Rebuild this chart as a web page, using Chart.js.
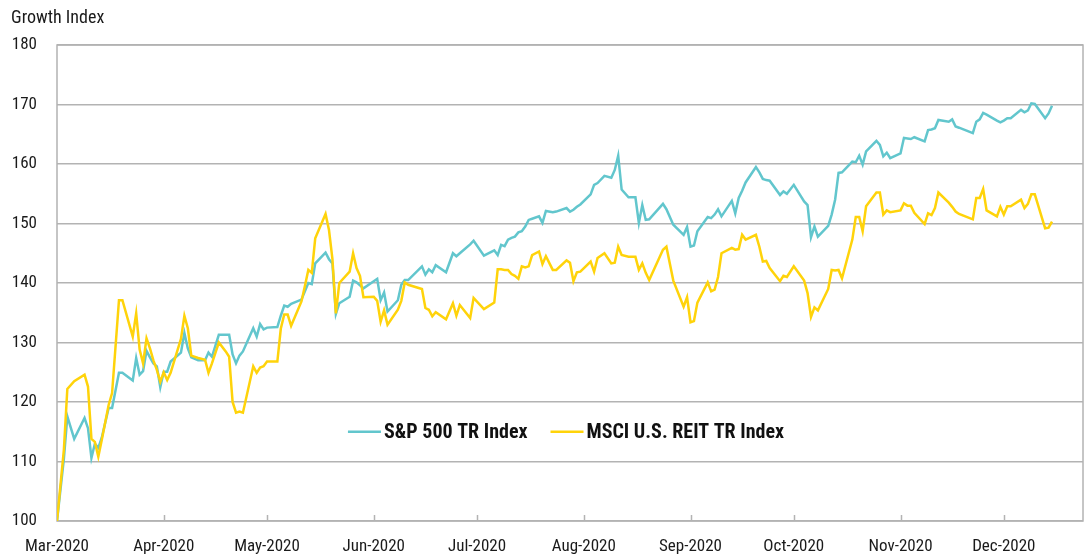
<!DOCTYPE html>
<html lang="en">
<head>
    <meta charset="UTF-8">
    <title>Growth Index</title>
    <script src="https://cdn.jsdelivr.net/npm/chart.js"></script>
    <style>
        body {
            margin: 0;
            background: #ffffff;
        }
        .wrap {
            position: relative;
            width: 1086px;
            height: 558px;
        }
    </style>
</head>
<body>
    <div class="wrap">
        <canvas id="growthChart"></canvas>
    </div>

    <script>
        // days counted from 1 Mar 2020
        const days = [
            0, 2, 3, 5, 8, 9, 10, 11, 12, 13,
            15, 16, 18, 19, 22, 23, 24, 25, 26, 27,
            28, 29, 30, 31, 32, 33, 36, 37, 38, 39,
            41, 43, 44, 45, 47, 49, 50, 51, 52, 53,
            54, 57, 58, 59, 60, 61, 64, 65, 66, 67,
            68, 71, 72, 73, 74, 75, 78, 79, 80, 81,
            82, 85, 86, 87, 88, 89, 92, 93, 94, 95,
            96, 99, 100, 101, 102, 106, 107, 108, 109, 110,
            113, 115, 116, 117, 120, 121, 124, 127, 128, 129,
            130, 131, 132, 133, 134, 135, 136, 137, 138, 140,
            141, 142, 144, 145, 148, 149, 150, 151, 152, 155,
            156, 157, 159, 161, 162, 163, 164, 166, 168, 169,
            170, 171, 172, 176, 177, 179, 182, 183, 184, 185,
            186, 189, 190, 191, 192, 193, 196, 197, 198, 199,
            200, 203, 204, 205, 206, 207, 210, 211, 212, 214,
            217, 218, 219, 220, 221, 224, 225, 226, 227, 228,
            231, 232, 233, 234, 235, 238, 239, 240, 241, 242,
            245, 246, 247, 248, 249, 252, 253, 254, 255, 256,
            259, 260, 261, 262, 266, 267, 268, 269, 270, 273,
            274, 275, 276, 277, 280, 281, 282, 283, 284, 287,
            288, 289
        ];

        const sp500 = [
            100, 110.5, 117.6, 113.8, 117.3, 115.6, 110.6, 113, 112.3, 114,
            119, 119, 124.9, 124.9, 123.6, 127.4, 124.6, 125.2, 128.6, 127.5,
            126.5, 126, 122.5, 125.1, 125.1, 126.8, 128.3, 131.6, 129, 127.5,
            127, 127, 128.3, 127.6, 131.3, 131.3, 131.3, 128, 126.5, 127.8,
            128.5, 132.4, 131, 133.1, 132.2, 132.5, 132.6, 134.5, 136.2, 136,
            136.5, 137.2, 138.6, 140, 139.8, 143.3, 145.1, 144, 143.3, 134.8,
            136.6, 137.7, 140.4, 140.1, 139.6, 139.1, 140.3, 140.7, 137.1, 138.4,
            135.2, 137.1, 139.7, 140.5, 140.5, 142.8, 141.4, 142.3, 141.8, 143,
            141.8, 145, 144.5, 145, 146.5, 147.1, 144.6, 145.5, 144.7, 146.4,
            146.2, 147.3, 147.6, 147.8, 148.5, 148.7, 149.5, 150.6, 150.8, 151.2,
            150.1, 152.1, 151.9, 152, 152.6, 152, 152.3, 152.8, 153.2, 154.9,
            156.5, 156.8, 158, 157.7, 159, 161.4, 155.7, 154.4, 154.4, 150.1,
            153.1, 150.6, 150.7, 153.3, 152.4, 149.8, 148.1, 149.4, 146.1, 146.3,
            148.7, 151.1, 150.9, 151.5, 152.4, 151.2, 153.8, 151.7, 154.3, 155.5,
            156.9, 159.5, 158.6, 157.5, 157.3, 157.2, 154.8, 155.4, 155, 156.5,
            153.7, 153.1, 147.7, 149.5, 147.8, 149.6, 151.5, 154, 158.5, 158.6,
            160.4, 160.3, 161.4, 159.9, 162.1, 163.9, 163.2, 161.3, 161.9, 161,
            161.8, 164.4, 164.3, 164.2, 164.5, 163.8, 165.7, 165.8, 166, 167.4,
            167.1, 167.5, 166.3, 166.1, 165.2, 167.1, 167.5, 168.6, 168.3, 167.3,
            167, 167.3, 167.7, 167.7, 169.1, 168.7, 169, 170.2, 170.1, 167.7,
            168.5, 169.8
        ];

        const reit = [
            100, 112, 122.2, 123.5, 124.6, 122.6, 113.8, 113.3, 110.8, 113.6,
            119.5, 121.5, 137.1, 137.1, 131, 134.9, 128.8, 126.5, 130.7, 129,
            127, 125.4, 123.4, 125, 123.7, 124.9, 130.6, 134.5, 132.4, 127.8,
            127.4, 127.1, 124.9, 126.5, 130, 128.5, 127.6, 120, 118.2, 118.4,
            118.2, 126, 124.9, 125.8, 126, 126.8, 126.8, 132.3, 134.7, 134.7,
            132.8, 136.9, 139.5, 142.2, 141.7, 147.5, 151.6, 148.9, 144, 134.9,
            140, 141.9, 145, 142.5, 141.2, 137.6, 137.7, 137, 133.5, 135.4,
            133, 135.5, 137, 140.1, 139.7, 139, 135.8, 135.5, 134.4, 135.1,
            133.9, 136.6, 134.5, 136.3, 134.1, 137.5, 135.6, 136.7, 142.3, 142.3,
            142.2, 142.2, 141.5, 141.2, 140.7, 142.8, 142.6, 142.8, 144.7, 145.3,
            143.2, 144.5, 142.2, 142.2, 143.8, 143.4, 140.3, 141.8, 141.9, 143.6,
            141.9, 144.2, 145, 143.3, 143.4, 146.1, 144.7, 144.4, 144.4, 142.2,
            143.3, 141.7, 140.5, 145.6, 146.1, 140.4, 136, 137.6, 133.4, 133.6,
            136.7, 140.1, 138.6, 138.9, 141, 145, 145.9, 145.6, 145.7, 148.1,
            147.3, 148.1, 146.1, 143.6, 143.7, 142.5, 140.3, 141.2, 141, 142.8,
            140.4, 138.3, 134.3, 135.9, 135.4, 139, 142.2, 142.1, 142.2, 140.8,
            147.3, 151.1, 151.1, 148.7, 152.9, 155.2, 155.2, 151.5, 152.2, 151.9,
            152.2, 153.4, 153, 153, 151.8, 149.9, 151.7, 151.4, 152.6, 155.2,
            153.5, 152.8, 152, 151.6, 150.7, 154.3, 154.3, 155.8, 152.2, 151.2,
            152.8, 151.5, 152.9, 152.9, 154, 152.6, 153.3, 154.9, 154.9, 149.2,
            149.3, 150.3
        ];

        const monthDays = [0, 31, 61, 92, 122, 153, 184, 214, 245, 275];
        const monthLabels = ['Mar-2020', 'Apr-2020', 'May-2020', 'Jun-2020', 'Jul-2020',
            'Aug-2020', 'Sep-2020', 'Oct-2020', 'Nov-2020', 'Dec-2020'];
        const seriesNames = ['S&P 500 TR Index', 'MSCI U.S. REIT TR Index'];
        const seriesColors = ['#62c6cd', '#ffd30a'];

        const FONT = "'Liberation Sans Narrow', 'Roboto Condensed', 'DejaVu Sans Condensed', sans-serif";
        const GRID = '#b3b3b3';

        // frame, inner month ticks, title and legend
        const decorations = {
            id: 'decorations',
            beforeDatasetsDraw(chart) {
                const { ctx, chartArea: a, scales } = chart;
                ctx.save();
                ctx.strokeStyle = GRID;
                ctx.lineWidth = 1.5;
                ctx.strokeRect(a.left, a.top, a.right - a.left, a.bottom - a.top);
                ctx.beginPath();
                monthDays.slice(1).forEach(d => {
                    const x = Math.round(scales.x.getPixelForValue(d)) + 0.5;
                    ctx.moveTo(x, a.bottom);
                    ctx.lineTo(x, a.bottom - 6);
                });
                ctx.stroke();
                ctx.restore();
            },
            afterDraw(chart) {
                const { ctx, chartArea: a, scales } = chart;
                ctx.save();
                ctx.fillStyle = '#1a1a1a';
                ctx.font = '18px ' + FONT;
                ctx.textBaseline = 'middle';
                ctx.textAlign = 'left';
                ctx.fillText('Growth Index', 11, 18);

                // legend
                ctx.font = 'bold 20px ' + FONT;
                const lineLen = 33, gapText = 3, gapItem = 23;
                const widths = seriesNames.map(n => ctx.measureText(n).width);
                const total = widths.reduce((s, w) => s + lineLen + gapText + w, 0) + gapItem;
                let x = 566 - total / 2;
                const y = scales.y.getPixelForValue(115);
                seriesNames.forEach((name, i) => {
                    ctx.strokeStyle = seriesColors[i];
                    ctx.lineWidth = 2.5;
                    ctx.beginPath();
                    ctx.moveTo(x, y);
                    ctx.lineTo(x + lineLen, y);
                    ctx.stroke();
                    x += lineLen + gapText;
                    ctx.fillStyle = '#111';
                    ctx.fillText(name, x, y + 1);
                    x += widths[i] + gapItem;
                });
                ctx.restore();
            }
        };

        const ctx = document.getElementById('growthChart').getContext('2d');
        const chart = new Chart(ctx, {
            type: 'line',
            data: {
                datasets: [
                    {
                        label: seriesNames[0],
                        data: days.map((d, i) => ({ x: d, y: sp500[i] })),
                        borderColor: seriesColors[0],
                        borderWidth: 2.5,
                        pointRadius: 0,
                        tension: 0,
                        order: 1
                    },
                    {
                        label: seriesNames[1],
                        data: days.map((d, i) => ({ x: d, y: reit[i] })),
                        borderColor: seriesColors[1],
                        borderWidth: 2.5,
                        pointRadius: 0,
                        tension: 0,
                        order: 0
                    }
                ]
            },
            options: {
                responsive: true,
                maintainAspectRatio: false,
                animation: false,
                layout: {
                    padding: { top: 45, right: 3, left: 0, bottom: 0 }
                },
                plugins: {
                    legend: { display: false },
                    tooltip: { enabled: false }
                },
                scales: {
                    x: {
                        type: 'linear',
                        min: 0,
                        max: 298,
                        afterBuildTicks: scale => {
                            scale.ticks = monthDays.map(v => ({ value: v }));
                        },
                        afterFit: scale => { scale.height = 37; },
                        ticks: {
                            autoSkip: false,
                            maxRotation: 0,
                            padding: 16,
                            color: '#1a1a1a',
                            font: { family: FONT, size: 17 },
                            callback: v => monthLabels[monthDays.indexOf(v)]
                        },
                        grid: { display: false, drawTicks: false },
                        border: { display: false }
                    },
                    y: {
                        min: 100,
                        max: 180,
                        afterFit: scale => { scale.width = 57; },
                        ticks: {
                            stepSize: 10,
                            padding: 20,
                            color: '#1a1a1a',
                            font: { family: FONT, size: 17 }
                        },
                        grid: { color: GRID, lineWidth: 1.5, drawTicks: false },
                        border: { display: false }
                    }
                }
            },
            plugins: [decorations]
        });
    </script>
</body>
</html>
